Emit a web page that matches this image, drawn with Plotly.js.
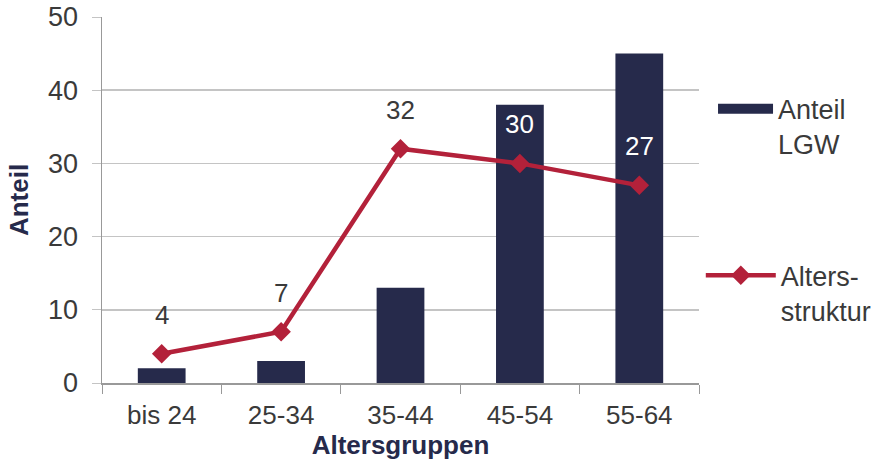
<!DOCTYPE html>
<html>
<head>
<meta charset="utf-8">
<script src="https://cdn.plot.ly/plotly-3.0.1.min.js"></script>
<style>html,body{margin:0;padding:0;background:#fff}#chart{width:877px;height:463px}</style>
</head>
<body>
<div id="chart"></div>
<script>
const categories = ["bis 24", "25-34", "35-44", "45-54", "55-64"];
const anteilLGW = [2, 3, 13, 38, 45];
const altersstruktur = [4, 7, 32, 30, 27];
const yTicks = [0, 10, 20, 30, 40, 50];
const labelColors = ["#3a3a3a", "#3a3a3a", "#3a3a3a", "#ffffff", "#ffffff"];

const FONT = "Liberation Sans, Arial, sans-serif";
const NAVY = "#262a4b";
const RED = "#b3213a";
const GRID = "#c4c4c4";

const traces = [
  {
    type: "bar", x: categories, y: anteilLGW, name: "Anteil LGW",
    marker: {color: NAVY}, showlegend: false, hoverinfo: "skip"
  },
  {
    // legend key only (wide bar swatch, as in the original)
    type: "scatter", mode: "lines", x: [null], y: [null], name: "Anteil<br>LGW",
    line: {color: NAVY, width: 14}, legend: "legend", hoverinfo: "skip"
  },
  {
    type: "scatter", mode: "lines+markers", x: categories, y: altersstruktur,
    name: "Alters-<br>struktur", line: {color: RED, width: 4.5},
    marker: {symbol: "diamond", size: 15, color: RED}, legend: "legend2", hoverinfo: "skip"
  }
];

const annotations = categories.map((c, i) => ({
  x: c, y: altersstruktur[i], xref: "x", yref: "y", text: String(altersstruktur[i]),
  showarrow: false, yshift: 39, font: {family: FONT, size: 26, color: labelColors[i]}
}));

const layout = {
  width: 877, height: 463,
  margin: {l: 102, r: 178, t: 17, b: 80, autoexpand: false},
  paper_bgcolor: "#ffffff", plot_bgcolor: "#ffffff",
  font: {family: FONT, size: 26, color: "#3a3a3a"},
  bargap: 0.6,
  showlegend: true,
  xaxis: {
    type: "category", tickson: "boundaries", ticks: "outside", ticklen: 9, tickcolor: "#999",
    showline: true, linecolor: "#999", linewidth: 1.5, showgrid: false,
    ticklabelstandoff: 8,
    tickfont: {family: FONT, size: 26, color: "#3a3a3a"},
    title: {text: "Altersgruppen", font: {family: FONT, size: 26, color: NAVY, weight: "bold"}, standoff: 4},
    fixedrange: true
  },
  yaxis: {
    range: [0, 50], tickvals: yTicks, ticks: "outside", ticklen: 9, tickcolor: GRID,
    showline: true, linecolor: "#999", linewidth: 1.5,
    showgrid: true, gridcolor: GRID, gridwidth: 1.5, zeroline: false,
    ticklabelstandoff: 8,
    tickfont: {family: FONT, size: 27, color: "#3a3a3a"},
    title: {text: "Anteil", font: {family: FONT, size: 26, color: NAVY, weight: "bold"}, standoff: 12},
    fixedrange: true
  },
  legend: {
    x: 1.0235, y: 0.815, xanchor: "left", yanchor: "top", valign: "top",
    itemwidth: 55, font: {family: FONT, size: 27, color: "#3a3a3a"}, bgcolor: "rgba(0,0,0,0)"
  },
  legend2: {
    x: 1.003, y: 0.36, xanchor: "left", yanchor: "top", valign: "top",
    itemwidth: 70, font: {family: FONT, size: 27, color: "#3a3a3a"}, bgcolor: "rgba(0,0,0,0)"
  },
  annotations: annotations
};

Plotly.newPlot("chart", traces, layout, {displayModeBar: false, staticPlot: true});
</script>
</body>
</html>
